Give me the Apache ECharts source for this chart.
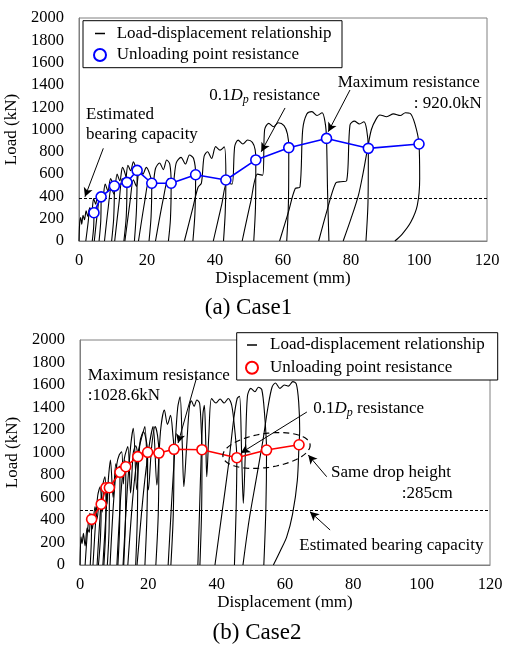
<!DOCTYPE html>
<html><head><meta charset="utf-8">
<script src="https://cdn.jsdelivr.net/npm/echarts@6/dist/echarts.min.js"></script>
<style>html,body{margin:0;padding:0;background:#fff}#c{width:505px;height:646px}</style>
</head><body><div id="c"></div>
<script>
// ---------- DATA ----------
const xTickMax = 120, xTickStep = 20;
const yTickMax = 2000, yTickStep = 200;

// Case1 unloading points
const c1UnloadDisp = [4.4, 6.5, 10.4, 14.1, 17.1, 21.4, 27.1, 34.3, 43.2, 52.0, 61.7, 72.8, 85.1, 100.0];
const c1UnloadLoad = [254, 396, 493, 526, 633, 518, 518, 594, 547, 727, 837, 920.0, 831, 870];
const c1Capacity = 385;

// Case1 load-displacement loops [disp, load]
const c1Loop1 = [[0,0],[0.2,160],[0.5,210],[0.8,150],[1.2,230],[1.6,190],[2.1,270],[2.6,220],[3.1,290],[3.6,250],[4.1,280],[4.4,254],[4.3,120],[3.9,0]];
const c1Loop2 = [[2.0,0],[2.7,170],[3.2,300],[3.7,240],[4.3,380],[4.9,330],[5.5,420],[6.0,380],[6.5,396],[6.4,180],[5.9,0]];
const c1Loop3 = [[4.5,0],[5.4,250],[6.2,420],[6.9,360],[7.7,510],[8.5,450],[9.3,560],[9.9,520],[10.4,493],[10.2,200],[9.6,0]];
const c1Loop4 = [[7.5,0],[8.6,300],[9.5,480],[10.3,420],[11.2,600],[12.0,540],[12.8,660],[13.6,600],[14.1,526],[13.9,220],[13.2,0]];
const c1Loop5 = [[10.5,0],[11.8,350],[12.7,560],[13.5,510],[14.4,680],[15.2,630],[16.0,711],[16.6,670],[17.1,633],[16.9,280],[16.3,0]];
const c1Loop6 = [[13.5,0],[15.0,350],[16.0,550],[16.9,490],[17.8,660],[18.8,600],[19.8,660],[20.8,600],[21.4,518],[21.2,220],[20.6,0]];
const c1Loop7 = [[17.5,0],[19.3,350],[20.5,530],[21.5,470],[22.5,650],[23.7,700],[24.8,640],[25.8,726],[26.7,690],[27.1,518],[26.9,200],[26.3,0]];
const c1Loop8 = [[22.5,0],[24.8,380],[26.3,560],[27.5,500],[28.6,700],[30.0,750],[31.3,690],[32.5,771],[33.7,740],[34.3,594],[34.1,250],[33.5,0]];
const c1Loop9 = [[31.0,0],[33.5,300],[35.0,480],[36.0,520],[36.8,760],[37.8,800],[39.0,740],[40.2,846],[41.5,815],[42.7,845],[43.2,547],[43.0,250],[42.5,0]];
const c1Loop10 = [[39.5,0],[42.0,330],[43.5,520],[45.0,510],[45.8,850],[46.8,905],[48.2,870],[49.6,906],[51.0,885],[51.8,820],[52.0,727],[51.9,300],[51.4,0]];
const c1Loop11 = [[48.0,0],[50.5,350],[52.5,600],[54.0,590],[54.6,1000],[55.8,1055],[57.2,1025],[58.6,1060],[60.3,1035],[61.3,960],[61.7,837],[61.6,350],[61.1,0]];
const c1Loop12 = [[59.0,0],[61.5,250],[63.6,470],[65.0,484],[65.8,1000],[67.0,1140],[68.5,1160],[70.0,1125],[71.5,1150],[72.4,1060],[72.8,920],[73.1,450],[73.5,0]];
const c1Loop13 = [[70.5,0],[73.0,280],[75.5,520],[77.0,532],[78.7,540],[79.7,1040],[81.0,1075],[82.5,1050],[83.8,1070],[84.6,1000],[85.1,831],[85.0,350],[84.4,0]];
const c1Loop14 = [[77.7,0],[80.0,200],[82.2,412],[83.5,600],[84.7,800],[86.0,1000],[87.5,1100],[88.5,1130],[90.5,1115],[92.5,1140],[94.5,1125],[96.0,1150],[97.4,1145],[98.8,1050],[100.0,870],[100.2,560],[99.5,320],[97.6,170],[95.0,60],[92.9,0]];

// Case2 unloading points
const c2UnloadDisp = [3.4, 6.2, 7.6, 8.6, 11.7, 13.4, 16.9, 19.8, 23.1, 27.5, 35.7, 45.9, 54.6, 64.1];
const c2UnloadLoad = [406, 540, 687, 687, 824, 874, 963, 1002, 995, 1028.6, 1025, 954, 1022, 1069];
const c2Capacity = 490;

// Case2 load-displacement loops [disp, load]
const c2Loop1 = [[0,0],[0.3,250],[0.6,190],[1.0,281],[1.5,170],[2.1,330],[2.7,290],[3.1,420],[3.4,406],[3.3,200],[3.0,0]];
const c2Loop2 = [[1.5,0],[2.2,300],[2.9,459],[3.6,320],[4.4,520],[5.0,410],[5.7,570],[6.2,540],[6.0,250],[5.4,0]];
const c2Loop3 = [[3.8,0],[4.6,400],[5.2,620],[5.9,696],[6.5,470],[7.1,710],[7.6,687],[7.5,300],[7.0,0]];
const c2Loop4 = [[5.0,0],[5.9,450],[6.6,700],[7.3,785],[7.9,540],[8.3,740],[8.6,687],[8.5,300],[8.0,0]];
const c2Loop5 = [[6.7,0],[7.7,500],[8.4,800],[8.9,933],[9.7,600],[10.5,900],[11.1,830],[11.5,880],[11.7,824],[11.6,350],[11.1,0]];
const c2Loop6 = [[8.8,0],[9.8,550],[10.8,900],[11.5,980],[12.2,1007],[12.7,720],[13.1,930],[13.4,874],[13.3,400],[12.8,0]];
const c2Loop7 = [[10.8,0],[11.9,600],[13.0,950],[14.0,1052],[14.8,640],[15.6,1000],[16.3,1060],[16.9,963],[16.8,450],[16.3,0]];
const c2Loop8 = [[12.6,0],[13.8,650],[14.8,1050],[15.6,1215],[16.6,670],[17.6,1100],[18.6,1185],[19.3,1120],[19.8,1002],[19.6,450],[19.0,0]];
const c2Loop9 = [[14.0,0],[15.6,650],[17.0,1000],[18.2,1150],[19.0,1230],[20.0,667],[21.0,1060],[22.0,1230],[22.7,1150],[23.1,995],[22.9,450],[22.2,0]];
const c2Loop10 = [[16.7,0],[18.6,650],[20.2,1050],[21.4,1230],[22.5,711],[23.6,1200],[24.7,1378],[25.6,1250],[26.5,1330],[27.2,1150],[27.5,1028.6],[27.3,450],[26.6,0]];
const c2Loop11 = [[25.8,0],[26.8,550],[27.8,1050],[28.6,1400],[29.3,1496],[29.9,1100],[30.4,696],[31.2,1050],[32.0,1400],[32.6,1460],[33.4,1410],[34.2,1467],[35.0,1440],[35.5,1200],[35.7,1025],[35.6,500],[35.1,0]];
const c2Loop12 = [[34.5,0],[35.0,500],[35.5,1000],[36.0,1350],[36.4,1420],[36.8,1100],[37.1,785],[37.7,1150],[38.5,1480],[39.8,1440],[41.0,1475],[42.2,1440],[43.4,1480],[44.4,1420],[45.3,1200],[45.9,954],[45.7,500],[45.2,0]];
const c2Loop13 = [[39.5,0],[41.5,450],[43.5,900],[45.0,1300],[46.0,1480],[46.7,1500],[47.3,1000],[47.8,548],[48.4,1000],[49.0,1500],[50.0,1570],[51.2,1540],[52.2,1580],[53.2,1560],[54.0,1350],[54.6,1022],[54.4,500],[53.8,0]];
const c2Loop14 = [[47.7,0],[49.5,400],[51.5,750],[53.5,1100],[55.0,1400],[56.2,1580],[57.2,1618],[58.5,1570],[59.8,1600],[61.0,1590],[62.3,1630],[63.3,1610],[64.0,1450],[64.3,1200],[64.1,1069],[63.6,750],[62.2,450],[60.5,250],[58.5,118],[56.6,0]];

const c1Loops = [c1Loop1,c1Loop2,c1Loop3,c1Loop4,c1Loop5,c1Loop6,c1Loop7,c1Loop8,c1Loop9,c1Loop10,c1Loop11,c1Loop12,c1Loop13,c1Loop14];
const c2Loops = [c2Loop1,c2Loop2,c2Loop3,c2Loop4,c2Loop5,c2Loop6,c2Loop7,c2Loop8,c2Loop9,c2Loop10,c2Loop11,c2Loop12,c2Loop13,c2Loop14];

// ---------- CHART ----------
const FONT = '"Liberation Serif","Times New Roman",serif';
const chart = echarts.init(document.getElementById('c'), null, {renderer:'canvas'});

function xAxisCfg(gi){
  return {type:'value', gridIndex:gi, min:0, max:xTickMax, interval:xTickStep,
    axisLine:{show:true, lineStyle:{color:'#808080', width:1}}, axisTick:{show:false}, splitLine:{show:false},
    axisLabel:{fontFamily:FONT, fontSize:16.5, color:'#000', margin:11, formatter:v=>String(v)},
    name:'Displacement (mm)', nameLocation:'middle', nameGap:27,
    nameTextStyle:{fontFamily:FONT, fontSize:17, color:'#000'}};
}
function yAxisCfg(gi){
  return {type:'value', gridIndex:gi, min:0, max:yTickMax, interval:yTickStep,
    axisLine:{show:true, lineStyle:{color:'#808080', width:1}}, axisTick:{show:false}, splitLine:{show:false},
    axisLabel:{fontFamily:FONT, fontSize:16.5, color:'#000', margin:15, formatter:v=>String(v)},
    name:'Load (kN)', nameLocation:'middle', nameGap:51, nameRotate:90,
    nameTextStyle:{fontFamily:FONT, fontSize:17, color:'#000'}};
}
function loopSeries(data, gi){
  return {type:'line', xAxisIndex:gi, yAxisIndex:gi, data:data, symbol:'none', showSymbol:false,
    smooth:0.3, lineStyle:{color:'#000', width:1.1}, silent:true, z:2, animation:false};
}
function arrow(from, to){
  return [{coord:from, symbol:'none', lineStyle:{type:'solid', color:'#000', width:1}}, {coord:to, symbol:'arrow'}];
}
function unloadSeries(disp, load, gi, color, cap, arrows){
  return {type:'line', xAxisIndex:gi, yAxisIndex:gi, data:disp.map((d,i)=>[d, load[i]]),
    symbol:'circle', symbolSize:10, showSymbol:true,
    itemStyle:{color:'#fff', borderColor:color, borderWidth:1.6},
    lineStyle:{color:color, width:1.6}, z:5, silent:true, animation:false,
    markLine:{silent:true, animation:false, symbol:['none','none'], symbolSize:[7,9], label:{show:false},
      lineStyle:{type:'solid', color:'#000', width:1},
      emphasis:{disabled:true},
      data:[{yAxis:cap, lineStyle:{type:[3,2], color:'#000', width:1}}].concat(arrows)}
  };
}

const series = [];
c1Loops.forEach(l=>series.push(loopSeries(l,0)));
c2Loops.forEach(l=>series.push(loopSeries(l,1)));
series.push(unloadSeries(c1UnloadDisp, c1UnloadLoad, 0, '#0000ff', c1Capacity, [
  arrow([7.15,831],[1.76,397]),
  arrow([60.6,1193],[53.6,800]),
  arrow([79.7,1354],[73.3,980])
]));
series.push(unloadSeries(c2UnloadDisp, c2UnloadLoad, 1, '#ff0000', c2Capacity, [
  arrow([34.2,1674],[28.7,1084]),
  arrow([66.4,1360],[47.1,996]),
  arrow([72.2,785],[66.8,978]),
  arrow([73.2,311],[67.3,474])
]));

function txt(x, y, text, size, align){
  return {type:'text', x:x, y:y, z:100, silent:true,
    style:{text:text, fill:'#000', font:size+'px '+FONT, align:align||'left', textAlign:align||'left', verticalAlign:'middle', textVerticalAlign:'middle'}};
}
function richDp(x, y){
  return {type:'text', x:x, y:y, z:100, silent:true,
    style:{text:'{a|0.1}{i|D}{s|p}{a| resistance}', fill:'#000', font:'17px '+FONT, verticalAlign:'middle', textVerticalAlign:'middle',
      rich:{a:{fontFamily:FONT, fontSize:17, lineHeight:20, verticalAlign:'middle'},
            i:{fontFamily:FONT, fontSize:17, fontStyle:'italic', lineHeight:20, verticalAlign:'middle'},
            s:{fontFamily:FONT, fontSize:12, fontStyle:'italic', lineHeight:12, verticalAlign:'bottom'}}}};
}
function legend(x0, y0, x1, y1, color, lx, ty1, ty2, tx){
  return [
    {type:'rect', z:90, silent:true, shape:{x:x0, y:y0, width:x1-x0, height:y1-y0}, style:{fill:'#fff', stroke:'#000', lineWidth:1}},
    {type:'line', z:100, silent:true, shape:{x1:lx-5, y1:ty1, x2:lx+5, y2:ty1}, style:{stroke:'#000', lineWidth:1.5}},
    {type:'circle', z:100, silent:true, shape:{cx:lx, cy:ty2, r:6}, style:{fill:'#fff', stroke:color, lineWidth:2}},
    txt(tx, ty1, 'Load-displacement relationship', 17),
    txt(tx, ty2, 'Unloading point resistance', 17)
  ];
}
function ellipsePts(cx, cy, rx, ry, deg){
  const p = [], a = deg*Math.PI/180;
  for (let k=0;k<72;k++){
    const t = k/72*2*Math.PI, x = rx*Math.cos(t), y = ry*Math.sin(t);
    p.push([cx + x*Math.cos(a) - y*Math.sin(a), cy + x*Math.sin(a) + y*Math.cos(a)]);
  }
  return p;
}

const graphic = [].concat(
  legend(83, 20.7, 342, 67.7, '#0000ff', 100, 33.5, 55, 116.7),
  legend(236.7, 332.7, 497.7, 380, '#ff0000', 252, 345, 367.7, 270),
  [
    txt(86, 115, 'Estimated', 17),
    txt(86, 135, 'bearing capacity', 17),
    richDp(209.3, 95.7),
    txt(337.7, 82.3, 'Maximum resistance', 17),
    txt(481.7, 103.3, ': 920.0kN', 17, 'right'),
    txt(248.5, 308, '(a) Case1', 23, 'center'),

    txt(87.7, 375.7, 'Maximum resistance', 17),
    txt(87.7, 396, ':1028.6kN', 17),
    richDp(313.3, 409),
    txt(331, 472.3, 'Same drop height', 17),
    txt(452.7, 493.3, ':285cm', 17, 'right'),
    txt(299.3, 546, 'Estimated bearing capacity', 17),
    txt(257, 633, '(b) Case2', 23, 'center'),
    {type:'polygon', z:100, silent:true, shape:{points:ellipsePts(266.5, 450.5, 44, 17, -8)},
      style:{fill:'none', stroke:'#000', lineWidth:1.2, lineDash:[6,4]}}
  ]
);

chart.setOption({
  animation:false,
  backgroundColor:'#fff',
  grid:[
    {left:79, top:18, width:408, height:223, show:true, borderColor:'#808080', borderWidth:1, backgroundColor:'transparent', containLabel:false, outerBoundsMode:'none'},
    {left:80, top:340, width:410, height:225, show:true, borderColor:'#808080', borderWidth:1, backgroundColor:'transparent', containLabel:false, outerBoundsMode:'none'}
  ],
  xAxis:[xAxisCfg(0), xAxisCfg(1)],
  yAxis:[yAxisCfg(0), yAxisCfg(1)],
  series:series,
  graphic:graphic
});
</script>
</body></html>
